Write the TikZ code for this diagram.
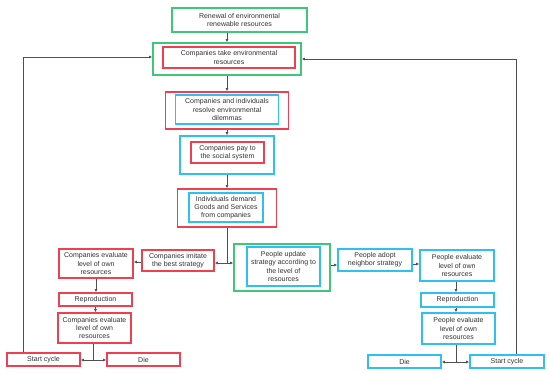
\documentclass[tikz,border=0pt]{standalone}
\usepackage{fontspec}
\setmainfont{Liberation Sans}
\usetikzlibrary{arrows.meta}
\definecolor{bgreen}{RGB}{60,200,120}
\definecolor{bred}{RGB}{240,64,80}
\definecolor{bblue}{RGB}{48,192,240}
\definecolor{txt}{RGB}{50,50,50}
\definecolor{con}{RGB}{80,80,80}
\begin{document}
\begin{tikzpicture}[x=1pt,y=-1pt,
  box/.style={draw,line width=1.2pt,inner sep=0pt,align=center,text=txt,
    font=\fontsize{7}{8.2}\selectfont},
  gbox/.style={box,draw=bgreen},
  rbox/.style={box,draw=bred},
  bbox/.style={box,draw=bblue},
  arr/.style={draw=con,line width=0.7pt,-{Latex[length=3.2pt,width=2.8pt]}},
  ln/.style={draw=con,line width=0.7pt}]
\useasboundingbox (0,0) rectangle (550,373);
% top column
\node[gbox,minimum width=135pt,minimum height=24pt] (ren) at (239.5,20) {Renewal of environmental\\renewable resources};
\node[gbox,minimum width=148pt,minimum height=32pt] (takeO) at (227,59) {};
\node[rbox,minimum width=132pt,minimum height=21pt] (takeI) at (229,57.5) {Companies take environmental\\resources};
\node[rbox,minimum width=123pt,minimum height=37pt] (resO) at (227,110.5) {};
\node[bbox,minimum width=103pt,minimum height=29pt] (resI) at (227,109.5) {Companies and individuals\\resolve environmental\\dilemmas};
\node[bbox,minimum width=94pt,minimum height=38pt] (payO) at (227,155) {};
\node[rbox,minimum width=73pt,minimum height=21pt] (payI) at (227.5,152.5) {Companies pay to\\the social system};
\node[rbox,minimum width=99pt,minimum height=38pt] (demO) at (227,208) {};
\node[bbox,minimum width=74pt,minimum height=29pt] (demI) at (226,207.5) {Individuals demand\\Goods and Services\\from companies};
% companies branch
\node[rbox,minimum width=72pt,minimum height=21pt] (imit) at (178,260.5) {Companies imitate\\the best strategy};
\node[rbox,minimum width=74pt,minimum height=29pt] (ceva) at (96,263.5) {Companies evaluate\\level of own\\resources};
\node[rbox,minimum width=73pt,minimum height=13pt] (crep) at (95.5,299.5) {Reproduction};
\node[rbox,minimum width=73pt,minimum height=30pt] (cevb) at (94.5,328) {Companies evaluate\\level of own\\resources};
\node[rbox,minimum width=73pt,minimum height=13pt] (cstart) at (43.5,359.5) {Start cycle};
\node[rbox,minimum width=73pt,minimum height=13pt] (cdie) at (143.5,359.5) {Die};
% people branch
\node[gbox,minimum width=96pt,minimum height=47pt] (pupO) at (282,267.5) {};
\node[bbox,minimum width=73pt,minimum height=39pt] (pupI) at (283.5,266.5) {People update\\strategy according to\\the level of\\resources};
\node[bbox,minimum width=74pt,minimum height=22pt] (padopt) at (375,260) {People adopt\\neighbor strategy};
\node[bbox,minimum width=74pt,minimum height=31pt] (peva) at (457,265.5) {People evaluate\\level of own\\resources};
\node[bbox,minimum width=73pt,minimum height=14pt] (prep) at (457.5,300) {Reproduction};
\node[bbox,minimum width=73pt,minimum height=31pt] (pevb) at (458.5,328.5) {People evaluate\\level of own\\resources};
\node[bbox,minimum width=73pt,minimum height=13pt] (pdie) at (404.5,361.5) {Die};
\node[bbox,minimum width=74pt,minimum height=13pt] (pstart) at (507,361.5) {Start cycle};
% junction coordinates
\coordinate (j1) at (227,263);
\coordinate (j2) at (93,360);
\coordinate (j3) at (456,362);
\coordinate (cl) at (23,57);
\coordinate (cr) at (516,59);
% main column connectors
\draw[arr] ([xshift=-12.5pt]ren.south) -- ([xshift=-12.5pt]ren.south |- takeO.north);
\draw[arr] (takeO.south) -- (takeO.south |- resO.north);
\draw[arr] (resO.south) -- (resO.south |- payO.north);
\draw[arr] (payO.south) -- (payO.south |- demO.north);
\draw[ln] (demO.south) -- (j1);
\draw[arr] (j1) -- (j1 -| imit.east);
\draw[arr] (j1) -- (j1 -| pupO.west);
% companies connectors
\draw[arr] (imit.west |- 0,262) -- (ceva.east |- 0,262);
\draw[arr] (ceva.south) -- (ceva.south |- crep.north);
\draw[arr] (crep.south) -- (crep.south |- cevb.north);
\draw[ln] (cevb.south -| j2) -- (j2);
\draw[arr] (j2) -- (j2 -| cstart.east);
\draw[arr] (j2) -- (j2 -| cdie.west);
\draw[arr] (cstart.north -| cl) -- (cl) -- (cl -| takeO.west);
% people connectors
\draw[arr] (pupO.east |- 0,265) -- (padopt.west |- 0,265);
\draw[arr] (padopt.east |- 0,264) -- (peva.west |- 0,264);
\draw[arr] (peva.south -| j3) -- (prep.north -| j3);
\draw[arr] (prep.south -| j3) -- (pevb.north -| j3);
\draw[ln] (pevb.south -| j3) -- (j3);
\draw[arr] (j3) -- (j3 -| pdie.east);
\draw[arr] (j3) -- (j3 -| pstart.west);
\draw[arr] (pstart.north -| cr) -- (cr) -- (cr -| takeO.east);
\end{tikzpicture}
\end{document}
